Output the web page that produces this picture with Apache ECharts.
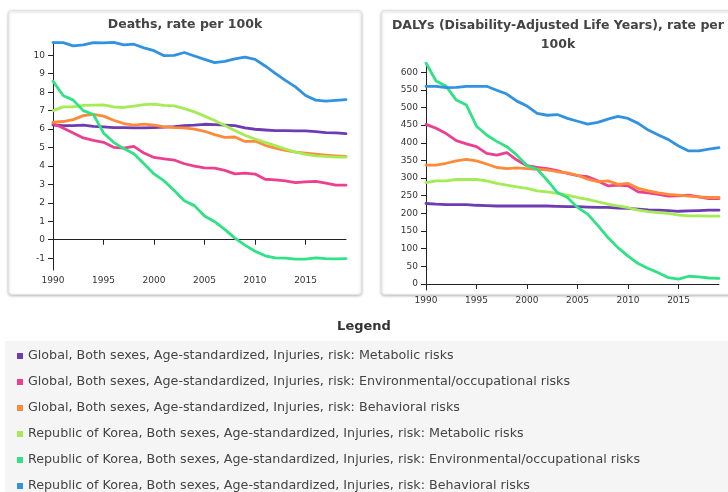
<!DOCTYPE html>
<html><head><meta charset="utf-8">
<script src="https://cdn.jsdelivr.net/npm/echarts@6/dist/echarts.min.js"></script>
<style>html,body{margin:0;padding:0;background:#fff;}#c{width:728px;height:492px;}</style>
</head><body><div id="c"></div>
<script>
const years = [1990,1991,1992,1993,1994,1995,1996,1997,1998,1999,2000,2001,2002,2003,2004,2005,2006,2007,2008,2009,2010,2011,2012,2013,2014,2015,2016,2017,2018,2019];
const seriesNames = [
  "Global, Both sexes, Age-standardized, Injuries, risk: Metabolic risks",
  "Global, Both sexes, Age-standardized, Injuries, risk: Environmental/occupational risks",
  "Global, Both sexes, Age-standardized, Injuries, risk: Behavioral risks",
  "Republic of Korea, Both sexes, Age-standardized, Injuries, risk: Metabolic risks",
  "Republic of Korea, Both sexes, Age-standardized, Injuries, risk: Environmental/occupational risks",
  "Republic of Korea, Both sexes, Age-standardized, Injuries, risk: Behavioral risks"
];
const colors = ['#6f3bb3','#ec3f8f','#ff8a3a','#a5eb55','#2fe283','#3192e0'];
const chartTitles = ["Deaths, rate per 100k", "DALYs (Disability-Adjusted Life Years), rate per\n100k"];
const legendTitle = "Legend";

// Deaths, rate per 100k
const deathsGlobalMetabolic = [6.22,6.19,6.19,6.21,6.15,6.12,6.08,6.08,6.06,6.06,6.08,6.10,6.13,6.19,6.21,6.26,6.24,6.21,6.19,6.06,5.99,5.95,5.92,5.92,5.90,5.90,5.86,5.81,5.79,5.75];
const deathsGlobalEnv = [6.30,6.06,5.79,5.52,5.39,5.28,5.01,4.97,5.06,4.70,4.46,4.39,4.32,4.12,3.99,3.90,3.88,3.76,3.57,3.61,3.56,3.28,3.25,3.19,3.10,3.14,3.16,3.07,2.96,2.96];
const deathsGlobalBehav = [6.37,6.41,6.51,6.73,6.80,6.70,6.48,6.30,6.21,6.27,6.21,6.12,6.08,6.06,6.00,5.88,5.70,5.55,5.57,5.33,5.35,5.12,4.97,4.84,4.75,4.70,4.64,4.59,4.55,4.52];
const deathsKoreaMetabolic = [7.00,7.20,7.20,7.28,7.30,7.31,7.20,7.17,7.24,7.33,7.35,7.28,7.26,7.11,6.93,6.70,6.46,6.19,5.92,5.66,5.46,5.28,5.10,4.92,4.75,4.63,4.55,4.52,4.48,4.48];
const deathsKoreaEnv = [8.60,7.82,7.57,7.00,6.79,5.79,5.28,4.94,4.66,4.12,3.57,3.19,2.67,2.12,1.85,1.29,0.98,0.56,0.09,-0.29,-0.62,-0.87,-0.98,-1.00,-1.05,-1.05,-0.98,-1.02,-1.04,-1.02];
const deathsKoreaBehav = [10.69,10.69,10.51,10.56,10.69,10.67,10.70,10.56,10.60,10.40,10.25,9.98,10.00,10.15,9.96,9.78,9.60,9.67,9.80,9.90,9.78,9.42,9.02,8.64,8.29,7.82,7.57,7.51,7.55,7.60];

// DALYs, rate per 100k
const dalysGlobalMetabolic = [228,226,225,225,225,223,222,221,221,221,221,221,221,220,219,219,218,217,217,215,214,212,210,209,208,206,207,208,209,209];
const dalysGlobalEnv = [452,441,426,406,397,389,370,365,372,351,335,330,327,321,313,307,304,292,278,280,278,261,258,254,249,250,252,247,242,242];
const dalysGlobalBehav = [337,337,342,349,353,349,340,330,327,329,327,325,323,318,315,308,297,290,292,282,285,271,264,258,254,252,249,247,245,245];
const dalysKoreaMetabolic = [287,292,292,296,296,296,292,285,280,275,271,264,261,257,252,245,240,233,226,221,216,209,205,202,200,195,193,193,192,192];
const dalysKoreaEnv = [626,575,560,521,507,447,422,404,389,365,335,325,294,259,245,217,198,166,132,103,79,58,44,32,18,14,22,20,17,16];
const dalysKoreaBehav = [560,560,556,557,560,560,560,549,538,518,504,483,478,480,469,461,453,458,467,475,469,455,436,422,409,391,377,377,382,386];

const deathsData = [deathsGlobalMetabolic, deathsGlobalEnv, deathsGlobalBehav, deathsKoreaMetabolic, deathsKoreaEnv, deathsKoreaBehav];
const dalysData = [dalysGlobalMetabolic, dalysGlobalEnv, dalysGlobalBehav, dalysKoreaMetabolic, dalysKoreaEnv, dalysKoreaBehav];

const FONT = 'DejaVu Sans';
const chart = echarts.init(document.getElementById('c'), null, {renderer:'canvas'});

function mkSeries(data, gi) {
  return data.map((arr, i) => ({
    name: seriesNames[i], type: 'line', xAxisIndex: gi, yAxisIndex: gi,
    data: years.map((y, k) => [y, arr[k]]),
    showSymbol: false, symbol: 'none', smooth: false,
    lineStyle: {width: 2.8, color: colors[i], join: 'round', cap: 'round'},
    itemStyle: {color: colors[i]},
    z: 3
  }));
}
const axisLineStyle = {lineStyle: {color: '#222', width: 1}};
function xAx(gi) {
  return {type: 'value', gridIndex: gi, min: 1990, max: 2019, interval: 5,
    axisLine: axisLineStyle, axisTick: {length: 5, lineStyle: {color: '#222'}},
    axisLabel: {fontFamily: FONT, fontSize: 9, color: '#333', margin: 6, showMaxLabel: false,
      formatter: v => (v % 5 === 0 ? String(v) : '')},
    splitLine: {show: false}};
}
function yAx(gi, min, max, interval) {
  return {type: 'value', gridIndex: gi, min: min, max: max,
    axisLine: {show: true, lineStyle: {color: '#222', width: 1}},
    axisTick: {show: true, length: 5, lineStyle: {color: '#222'}},
    axisLabel: {fontFamily: FONT, fontSize: 9, color: '#333', margin: 8, showMinLabel: false, showMaxLabel: false},
    splitNumber: Math.round((max - min) / interval),
    splitLine: {show: false}};
}

const option = {
  animation: false,
  color: colors,
  graphic: [
    {type: 'rect', z: -10, shape: {x: 8.5, y: 10.5, width: 353, height: 284, r: 3},
      style: {fill: '#fff', stroke: '#e2e2e2', lineWidth: 1, shadowBlur: 3, shadowOffsetY: 1, shadowColor: 'rgba(0,0,0,0.25)'}},
    {type: 'rect', z: -10, shape: {x: 381.5, y: 10.5, width: 360, height: 284, r: 3},
      style: {fill: '#fff', stroke: '#e2e2e2', lineWidth: 1, shadowBlur: 3, shadowOffsetY: 1, shadowColor: 'rgba(0,0,0,0.25)'}},
    {type: 'rect', z: -10, shape: {x: 5, y: 341, width: 730, height: 160},
      style: {fill: '#f5f5f5'}},
    {type: 'text', left: 'center', top: 320, z: 5,
      style: {text: legendTitle, fontFamily: FONT, fontSize: 13, fontWeight: 'bold', fill: '#333'}}
  ],
  title: [
    {text: chartTitles[0], left: 180, top: 10, textAlign: 'center',
      textStyle: {fontFamily: FONT, fontSize: 12.5, fontWeight: 'bold', color: '#444', lineHeight: 19}},
    {text: chartTitles[1], left: 553, top: 11, textAlign: 'center',
      textStyle: {fontFamily: FONT, fontSize: 12.5, fontWeight: 'bold', color: '#444', lineHeight: 19}}
  ],
  legend: {
    orient: 'vertical', left: 12, top: 341, height: 200, itemGap: 6, icon: 'rect', itemWidth: 6, itemHeight: 6,
    data: seriesNames, selectedMode: false,
    textStyle: {fontFamily: FONT, fontSize: 12.7, color: '#444', lineHeight: 20}
  },
  grid: [
    {left: 53, top: 42, width: 293, height: 228, containLabel: false},
    {left: 426, top: 63, width: 293, height: 227, containLabel: false}
  ],
  xAxis: [xAx(0), xAx(1)],
  yAxis: [yAx(0, -1.64, 10.72, 1), yAx(1, -17, 626, 50)],
  series: [...mkSeries(deathsData, 0), ...mkSeries(dalysData, 1)]
};
chart.setOption(option);
</script>
</body></html>
